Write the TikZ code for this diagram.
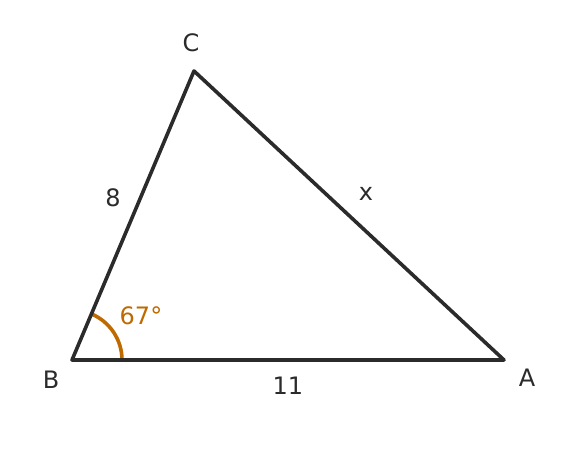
\documentclass[tikz,border=0pt]{standalone}
\usepackage{fontspec}
\setmainfont{DejaVu Sans}
\usetikzlibrary{calc}
\definecolor{edgegray}{HTML}{2B2B2B}
\definecolor{angleorange}{HTML}{BF6A00}
\tikzset{
   side/.style={draw=edgegray,line width=3.6bp,line cap=round,line join=round},
   vertexlabel/.style={text=edgegray,font=\fontsize{24bp}{28bp}\selectfont},
   sidelabel/.style={text=edgegray,font=\fontsize{24bp}{28bp}\selectfont},
   anglemark/.style={draw=angleorange,line width=3.6bp},
   anglelabel/.style={text=angleorange,font=\fontsize{24bp}{28bp}\selectfont}
}
\begin{document}
\begin{tikzpicture}[x=1bp,y=1bp]
            \useasboundingbox (0,0) rectangle (576,473);
            \coordinate (B) at (72,113);
            \coordinate (A) at (504,113);
            \coordinate (C) at (194,402);

            \draw[anglemark] ($(B)+(50,0)$) arc[start angle=0,end angle=67.1,radius=50];
            \draw[side] (B) -- (A) -- (C) -- cycle;

            \node[vertexlabel](labC) at (191,430) {C};
            \node[vertexlabel](labB) at (51,93) {B};
            \node[vertexlabel](labA) at (527,95) {A};
            \node[sidelabel](lenBC) at (113,275) {8};
            \node[sidelabel](lenAC) at (366,279) {x};
            \node[sidelabel](lenAB) at (288,87) {11};
            \node[anglelabel](angB) at (141,157) {67°};
         \end{tikzpicture}
\end{document}
